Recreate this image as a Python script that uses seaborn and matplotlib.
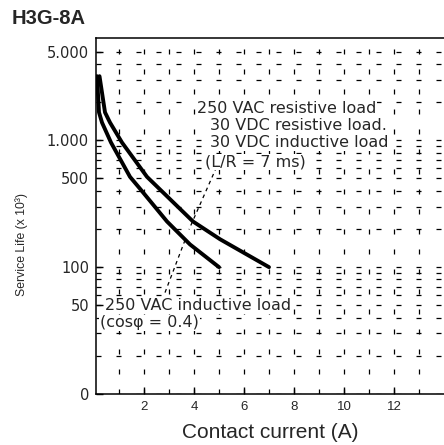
import matplotlib
matplotlib.use('Agg')
import matplotlib.pyplot as plt
import seaborn as sns
from matplotlib.ticker import FixedLocator, NullFormatter

# service life curves (current in A, life in x10^3 operations)
resistive_current = [0.22, 0.44, 0.64, 1.12, 2.12, 3.96, 5.04, 7.0]
resistive_life = [3200, 1660, 1380, 960, 515, 229, 166, 100]
inductive_current = [0.12, 0.2, 0.32, 0.68, 1.44, 1.84, 2.92, 3.84, 5.0]
inductive_life = [3200, 1660, 1380, 960, 515, 415, 229, 151, 100]

x_ticks = [2, 4, 6, 8, 10, 12]
x_minor = [1, 3, 5, 7, 9, 11, 13]
y_ticks = [10, 50, 100, 500, 1000, 5000]
y_tick_labels = ['0', '50', '100', '500', '1.000', '5.000']
y_minor = [20, 30, 40, 60, 70, 80, 90, 200, 300, 400, 600, 700, 800, 900,
           2000, 3000, 4000]

sns.set_style('white')
plt.rcParams['font.family'] = ['DejaVu Sans']

fig = plt.figure(figsize=(4.44, 4.45), dpi=100)
ax = fig.add_axes([96 / 444, 51 / 445, 348 / 444, 356 / 445])

ax.set_yscale('log')
ax.set_xlim(0.08, 14)
ax.set_ylim(10, 6400)

ax.xaxis.set_major_locator(FixedLocator(x_ticks))
ax.xaxis.set_minor_locator(FixedLocator(x_minor))
ax.yaxis.set_major_locator(FixedLocator(y_ticks))
ax.yaxis.set_minor_locator(FixedLocator(y_minor))
ax.yaxis.set_minor_formatter(NullFormatter())
ax.set_yticklabels(y_tick_labels, fontsize=10.5)
ax.set_xticklabels([str(t) for t in x_ticks], fontsize=9.5, family='Liberation Sans')

ax.grid(True, which='both', color='black', lw=0.9, ls=(0, (4, 12)))
ax.tick_params(axis='both', which='major', direction='in', length=5, width=1,
               color='black', pad=5, left=True, bottom=True)
ax.tick_params(axis='both', which='minor', length=0)

sns.lineplot(x=resistive_current, y=resistive_life, sort=False, color='black',
             lw=2.8, ax=ax)
sns.lineplot(x=inductive_current, y=inductive_life, sort=False, color='black',
             lw=2.8, ax=ax)

for side in ['left', 'bottom', 'top']:
    ax.spines[side].set_color('black')
    ax.spines[side].set_linewidth(1.1)
ax.spines['right'].set_visible(False)

box = dict(facecolor='white', edgecolor='none', pad=0.5)
ax.text(4.12, 1780, '250 VAC resistive load', fontsize=11.5, va='center', bbox=box)
ax.text(4.64, 1310, '30 VDC resistive load.', fontsize=11.5, va='center', bbox=box)
ax.text(4.64, 960, '30 VDC inductive load', fontsize=11.5, va='center', bbox=box)
ax.text(4.44, 675, '(L/R = 7 ms)', fontsize=11.5, va='center', bbox=box)
ax.text(0.44, 49.6, '250 VAC inductive load', fontsize=11.5, va='center', bbox=box)
ax.text(0.24, 36.5, '(cosφ = 0.4)', fontsize=11.5, va='center', bbox=box)

# leader lines to the curves
ax.plot([4.9, 3.8], [614, 198], color='black', lw=0.9, ls=(0, (3, 3)))
ax.plot([2.84, 3.65], [63, 165], color='black', lw=0.9, ls=(0, (3, 3)))

ax.set_xlabel('')
ax.set_ylabel('')
fig.text(270 / 444, 1 - 433 / 445, 'Contact current (A)', fontsize=15,
         family='Liberation Sans', ha='center', va='center')
fig.text(22 / 444, 1 - 244 / 445, 'Service Life (x 10³)', fontsize=8.8,
         family='Liberation Sans', rotation=90, ha='center', va='center')
fig.text(12 / 444, 1 - 18 / 445, 'H3G-8A', fontsize=14.5, fontweight='bold',
         family='Liberation Sans', ha='left', va='center')

fig.savefig('out.png', dpi=100)
